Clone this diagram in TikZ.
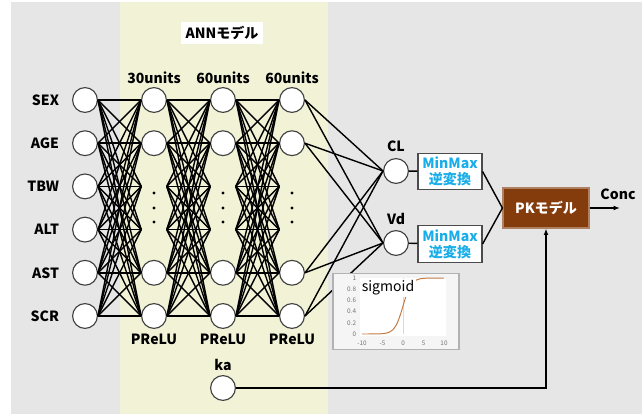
\documentclass[tikz,border=0pt]{standalone}
\usepackage{fontspec}
\setmainfont{Noto Sans CJK JP}
\usetikzlibrary{arrows.meta}
\definecolor{PanelGray}{HTML}{E6E6E6}
\definecolor{AnnYellow}{HTML}{F2F2D7}
\definecolor{PkBrown}{HTML}{843C0C}
\definecolor{InvCyan}{HTML}{19AEEA}
\definecolor{SigOrange}{HTML}{C47A45}

\begin{document}
\begin{tikzpicture}[x=0.025cm,y=-0.025cm,
    unit/.style={circle,draw=black!75,fill=white,line width=0.8pt,minimum size=0.62cm,inner sep=0pt},
    ghost/.style={circle,minimum size=0.62cm,inner sep=0pt},
    lab/.style={font=\fontsize{10}{11.5}\selectfont\bfseries},
    wire/.style={line width=1pt},
    arr/.style={-{Latex[length=1.6mm]},line width=0.9pt},
    inv/.style={draw=black!70,fill=white,line width=0.8pt,minimum width=1.6cm,minimum height=0.92cm,
                align=center,inner sep=1pt,text=InvCyan,font=\fontsize{10}{11.5}\selectfont\bfseries},
    pk/.style={fill=PkBrown,draw=PkBrown!65!white,line width=0.8pt,minimum width=2.15cm,minimum height=1cm,
               text=white,font=\fontsize{10}{11.5}\selectfont\bfseries},
    tick/.style={inner sep=0.5pt,text=black!55,font=\fontsize{4.5}{5}\selectfont}]
    % panels
    \useasboundingbox (0,0) rectangle (643,414);
    \fill[PanelGray] (11,2) rectangle (642,414);
    \fill[AnnYellow] (120,2) rectangle (328,414);
    \node[lab,fill=white,minimum width=2.05cm,minimum height=0.52cm] (ann) at (222,33) {ANNモデル};

    % input layer
    \foreach \t [count=\i from 0] in {SEX,AGE,TBW,ALT,AST,SCR}{
      \node[unit] (in\i) at (85,{100+43.2*\i}) {};
      \node[lab,anchor=east] (name\i) at (64,{100+43.2*\i}) {\t};
    }

    % hidden layers (rows 2 and 3 stand for the dots)
    \foreach \c/\x/\u in {1/154/30units,2/223/60units,3/292/60units}{
      \foreach \i in {0,1,4,5} \node[unit] (h\c-\i) at (\x,{100+43.2*\i}) {};
      \foreach \i in {2,3} \node[ghost] (h\c-\i) at (\x,{100+43.2*\i}) {};
      \node[lab] (units\c) at (\x,78) {\u};
      \node[lab] (act\c) at (\x,339) {PReLU};
      \foreach \y in {193,208,222} \fill (\x,\y) circle (1.1pt);
    }

    % fully connected wiring
    \foreach \a in {0,...,5}
      \foreach \b in {0,...,5}{
        \draw[wire] (in\a.east) -- (h1-\b.west);
        \draw[wire] (h1-\a.east) -- (h2-\b.west);
        \draw[wire] (h2-\a.east) -- (h3-\b.west);
      }

    % CL and Vd
    \node[unit] (cl) at (396,171) {};
    \node[unit] (vd) at (396,243) {};
    \node[lab] (cllab) at (396,146) {CL};
    \node[lab] (vdlab) at (396,219) {Vd};
    \foreach \i in {0,1,4,5}{
      \draw[wire] (h3-\i.east) -- (cl.west);
      \draw[wire] (h3-\i.east) -- (vd.west);
    }

    % ka
    \node[unit] (ka) at (223,388) {};
    \node[lab] (kalab) at (223,365) {ka};

    % inverse MinMax and PK model
    \node[inv] (invcl) at (450,171.5) {MinMax\\逆変換};
    \node[inv] (invvd) at (450,244) {MinMax\\逆変換};
    \draw[wire] (cl) -- (invcl);
    \draw[wire] (vd) -- (invvd);
    \node[pk] (pk) at (546,208) {PKモデル};
    \draw[wire] (invcl.east) -- (pk.west);
    \draw[wire] (invvd.east) -- (pk.west);
    \coordinate (out) at (620,208);
    \draw[arr] (pk.east) -- (out);
    \node[lab] (conc) at (618,194) {Conc};
    \draw[arr] (ka.east) -| (pk.south);

    % sigmoid inset
    \node[draw=black!30,fill=black!4,line width=0.8pt,minimum width=3.15cm,minimum height=1.88cm,inner sep=0pt] (sig) at (396,311.5) {};
    \fill[white] (360,278) rectangle (446,336);
    \draw[black!15] (403,278) -- (403,334);
    \draw[SigOrange,line width=0.7pt] plot[domain=-10:10,samples=80] ({403+4.1*\x},{334-56*(0.5+0.5*tanh(\x/2))});
    \node[fill=white,inner sep=1pt,font=\fontsize{10}{11}\selectfont] (sigtxt) at (388,288) {sigmoid};
    \foreach \v [count=\k] in {0,0.2,0.4,0.6,0.8,1}
      \node[tick,anchor=east] (yt\k) at (357,{334-56*\v}) {\v};
    \foreach \v [count=\k] in {-10,-5,0,5,10}
      \node[tick] (xt\k) at ({403+4.1*\v},343) {\v};
\end{tikzpicture}
\end{document}
